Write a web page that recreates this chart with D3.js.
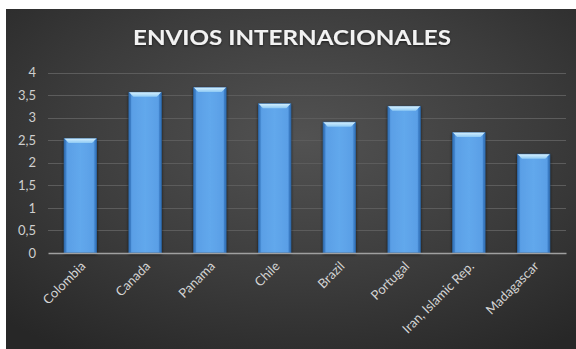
<!DOCTYPE html>
<html>
<head>
<meta charset="utf-8">
<script src="https://cdn.jsdelivr.net/npm/d3@7/dist/d3.min.js"></script>
<style>
  html, body { margin: 0; padding: 0; background: #ffffff; }
  svg { display: block; }
</style>
</head>
<body>
<svg id="chart" width="576" height="349"></svg>
<script>
// Chart data
const categories = ["Colombia", "Canada", "Panama", "Chile", "Brazil", "Portugal", "Iran, Islamic Rep.", "Madagascar"];
const values = [2.54, 3.56, 3.67, 3.31, 2.9, 3.25, 2.67, 2.19];
const yTicks = [0, 0.5, 1, 1.5, 2, 2.5, 3, 3.5, 4];
const titleText = "ENVIOS INTERNACIONALES";

const W = 576, H = 349;
const svg = d3.select("#chart");
const defs = svg.append("defs");

// Dark panel background with a soft central highlight
const bg = defs.append("radialGradient").attr("id", "bgGrad")
  .attr("cx", "52%").attr("cy", "38%").attr("r", "75%");
bg.append("stop").attr("offset", "0%").attr("stop-color", "#525252");
bg.append("stop").attr("offset", "55%").attr("stop-color", "#3c3c3c");
bg.append("stop").attr("offset", "100%").attr("stop-color", "#272727");

// Bar body: darker edges, brighter middle
const barGrad = defs.append("linearGradient").attr("id", "barGrad")
  .attr("x1", "0%").attr("x2", "100%").attr("y1", "0%").attr("y2", "0%");
barGrad.append("stop").attr("offset", "0%").attr("stop-color", "#3f82cc");
barGrad.append("stop").attr("offset", "10%").attr("stop-color", "#5a9fe6");
barGrad.append("stop").attr("offset", "50%").attr("stop-color", "#62a8ec");
barGrad.append("stop").attr("offset", "90%").attr("stop-color", "#5a9fe6");
barGrad.append("stop").attr("offset", "100%").attr("stop-color", "#3f82cc");

const bevelGrad = defs.append("linearGradient").attr("id", "bevelGrad")
  .attr("x1", "0%").attr("x2", "0%").attr("y1", "0%").attr("y2", "100%");
bevelGrad.append("stop").attr("offset", "0%").attr("stop-color", "#d6f1ff");
bevelGrad.append("stop").attr("offset", "100%").attr("stop-color", "#8fcaf4");

const shadow = defs.append("filter").attr("id", "barShadow")
  .attr("x", "-30%").attr("y", "-10%").attr("width", "160%").attr("height", "130%");
shadow.append("feDropShadow").attr("dx", 0).attr("dy", 1)
  .attr("stdDeviation", 1.6).attr("flood-color", "#000000").attr("flood-opacity", 0.7);

const titleShadow = defs.append("filter").attr("id", "titleShadow")
  .attr("x", "-10%").attr("y", "-30%").attr("width", "120%").attr("height", "160%");
titleShadow.append("feDropShadow").attr("dx", 0).attr("dy", 1)
  .attr("stdDeviation", 1.2).attr("flood-color", "#000000").attr("flood-opacity", 0.6);

// Chart panel
const panel = { x: 6, y: 9, w: W - 6, h: H - 9 };
svg.append("rect")
  .attr("x", panel.x).attr("y", panel.y)
  .attr("width", panel.w).attr("height", panel.h)
  .attr("fill", "url(#bgGrad)");

// Title
svg.append("text")
  .attr("x", 292).attr("y", 45)
  .attr("text-anchor", "middle")
  .attr("font-family", "Lato, 'Open Sans', sans-serif")
  .attr("font-weight", "bold")
  .attr("font-size", 21)
  .attr("textLength", 318)
  .attr("lengthAdjust", "spacingAndGlyphs")
  .attr("fill", "#f2f2f2")
  .attr("filter", "url(#titleShadow)")
  .text(titleText);

// Scales
const plot = { left: 48, right: 566, top: 72.5, bottom: 253 };
const x = d3.scaleBand()
  .domain(categories)
  .range([plot.left, plot.right])
  .paddingInner(0.5)
  .paddingOuter(0.25);
const y = d3.scaleLinear()
  .domain([0, 4])
  .range([plot.bottom, plot.top]);

// Gridlines
svg.append("g")
  .selectAll("line")
  .data(yTicks.filter(d => d > 0))
  .join("line")
  .attr("x1", plot.left).attr("x2", plot.right)
  .attr("y1", d => Math.round(y(d)) + 0.5).attr("y2", d => Math.round(y(d)) + 0.5)
  .attr("stroke", "#5c5c5c")
  .attr("stroke-width", 1);

// Y axis labels
const yAxis = svg.append("g")
  .attr("transform", `translate(${plot.left},0)`)
  .call(d3.axisLeft(y).tickValues(yTicks)
    .tickSize(0).tickPadding(12)
    .tickFormat(d => String(d).replace(".", ",")));
yAxis.select(".domain").remove();
yAxis.selectAll("text")
  .attr("font-family", "Lato, 'Open Sans', sans-serif")
  .attr("font-size", 13)
  .attr("fill", "#cfcfcf");

// Bars
const bars = svg.append("g").selectAll("g.bar")
  .data(categories.map((c, i) => ({ c, v: values[i] })))
  .join("g")
  .attr("class", "bar");

bars.append("rect")
  .attr("x", d => x(d.c))
  .attr("y", d => y(d.v))
  .attr("width", x.bandwidth())
  .attr("height", d => y(0) - y(d.v))
  .attr("fill", "url(#barGrad)")
  .attr("stroke", "#2c5f96")
  .attr("stroke-width", 0.8)
  .attr("filter", "url(#barShadow)");

// Top bevel of each bar
const bev = 4.5;
bars.append("polygon")
  .attr("points", d => {
    const x0 = x(d.c), x1 = x0 + x.bandwidth(), t = y(d.v);
    return [[x0, t], [x1, t], [x1 - bev, t + bev], [x0 + bev, t + bev]]
      .map(p => p.join(",")).join(" ");
  })
  .attr("fill", "url(#bevelGrad)");

// Side bevels
bars.append("polygon")
  .attr("points", d => {
    const x0 = x(d.c), t = y(d.v), b = y(0);
    return [[x0, t], [x0 + 2, t + 2], [x0 + 2, b], [x0, b]].map(p => p.join(",")).join(" ");
  })
  .attr("fill", "#3574bb").attr("opacity", 0.7);
bars.append("polygon")
  .attr("points", d => {
    const x1 = x(d.c) + x.bandwidth(), t = y(d.v), b = y(0);
    return [[x1, t], [x1 - 2, t + 2], [x1 - 2, b], [x1, b]].map(p => p.join(",")).join(" ");
  })
  .attr("fill", "#3574bb").attr("opacity", 0.7);

// Category axis
const xAxis = svg.append("g")
  .attr("transform", `translate(0,${plot.bottom})`)
  .call(d3.axisBottom(x).tickSize(0).tickPadding(0));
xAxis.select(".domain")
  .attr("stroke", "#a0a0a0")
  .attr("stroke-width", 1.3);
xAxis.selectAll("text")
  .attr("font-family", "Lato, 'Open Sans', sans-serif")
  .attr("font-size", 13)
  .attr("fill", "#d4d4d4")
  .attr("text-anchor", "end")
  .attr("dy", 0)
  .attr("transform", "translate(6,14) rotate(-45)");
</script>
</body>
</html>
